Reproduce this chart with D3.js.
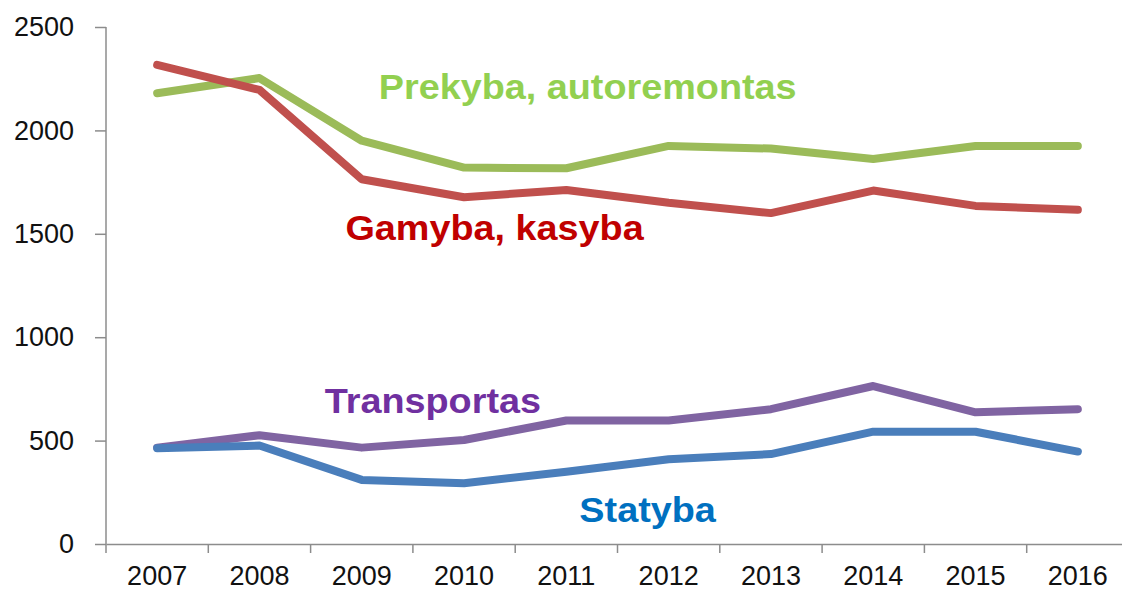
<!DOCTYPE html>
<html>
<head>
    <meta charset="utf-8">
    <style>
        body { margin: 0; background: #fff; }
        text { font-family: Arial, "Liberation Sans", sans-serif; }
    </style>
</head>
<body>
    <script src="https://d3js.org/d3.v7.min.js"></script>
    <div id="chart"></div>
    <script>
        const width = 1122
        const height = 590

        const years = ["2007", "2008", "2009", "2010", "2011", "2012", "2013", "2014", "2015", "2016"]
        const yTicks = [0, 500, 1000, 1500, 2000, 2500]

        const prekyba = [2180, 2253, 1950, 1820, 1817, 1925, 1912, 1862, 1925, 1925]
        const gamyba = [2317, 2196, 1764, 1677, 1712, 1650, 1600, 1709, 1635, 1616]
        const transportas = [466, 526, 466, 503, 597, 597, 652, 764, 637, 652]
        const statyba = [463, 476, 310, 294, 349, 410, 435, 543, 543, 447]

        const seriesNames = ["Prekyba, autoremontas", "Gamyba, kasyba", "Transportas", "Statyba"]
        const seriesValues = [prekyba, gamyba, transportas, statyba]
        const lineColors = ["#9BBB59", "#C0504D", "#8064A2", "#4A7EBB"]
        const labelColors = ["#92D050", "#C00000", "#7030A0", "#0070C0"]
        // where each series name sits: a year band and a value on the y scale
        const labelPos = [
            { year: "2009", value: 2150, dx: 17 },
            { year: "2008", value: 1470, dx: 86 },
            { year: "2009", value: 635, dx: -37 },
            { year: "2011", value: 105, dx: 13 }
        ]

        const padding = { top: 27, left: 106, right: -7, bottom: 46 }

        const svg = d3.select("#chart").append("svg")
            .attr("width", width).attr("height", height)

        const x = d3.scaleBand()
            .domain(years)
            .range([padding.left, width - padding.right])

        const y = d3.scaleLinear()
            .domain([0, 2500])
            .range([height - padding.bottom, padding.top])

        const axisColor = "#8c8c8c"

        // y axis
        const yAxis = svg.append("g")
            .attr("transform", "translate(" + padding.left + ",0)")
            .call(d3.axisLeft(y).tickValues(yTicks).tickFormat(d3.format("d"))
                .tickSize(11).tickSizeOuter(0).tickPadding(21))
        yAxis.select(".domain").attr("stroke", axisColor).attr("stroke-width", 1.5)
            .attr("d", "M0," + y(2500) + "V" + (y(0) + 9))
        yAxis.selectAll(".tick line").attr("stroke", axisColor).attr("stroke-width", 1.5)
        yAxis.selectAll(".tick text").attr("font-size", 27).attr("fill", "#111")

        // x axis
        const xAxis = svg.append("g")
            .attr("transform", "translate(0," + y(0) + ")")
            .call(d3.axisBottom(x).tickSize(0).tickPadding(22))
        xAxis.select(".domain").attr("stroke", axisColor).attr("stroke-width", 1.5)
        xAxis.selectAll(".tick text").attr("font-size", 27).attr("fill", "#111")

        xAxis.selectAll(".sep")
            .data(years.slice(1))
            .enter()
            .append("line")
            .attr("class", "sep")
            .attr("x1", d => x(d)).attr("x2", d => x(d))
            .attr("y1", 0).attr("y2", 9)
            .attr("stroke", axisColor).attr("stroke-width", 1.5)

        const line = d3.line()
            .x((d, i) => x(years[i]) + x.bandwidth() / 2)
            .y(d => y(d))

        svg.append("g")
            .selectAll("path")
            .data(seriesValues)
            .enter()
            .append("path")
            .attr("d", d => line(d))
            .attr("fill", "none")
            .attr("stroke", (d, i) => lineColors[i])
            .attr("stroke-width", 8)
            .attr("stroke-linecap", "round")
            .attr("stroke-linejoin", "round")

        // series names, a little stretched sideways like the original
        svg.append("g")
            .selectAll("text")
            .data(seriesNames)
            .enter()
            .append("text")
            .attr("transform", (d, i) => {
                const p = labelPos[i]
                const px = x(p.year) + x.bandwidth() / 2 + p.dx
                return "translate(" + px + "," + y(p.value) + ") scale(1.08,1)"
            })
            .attr("font-size", 35)
            .attr("font-weight", "bold")
            .attr("fill", (d, i) => labelColors[i])
            .text(d => d)
    </script>
</body>
</html>
